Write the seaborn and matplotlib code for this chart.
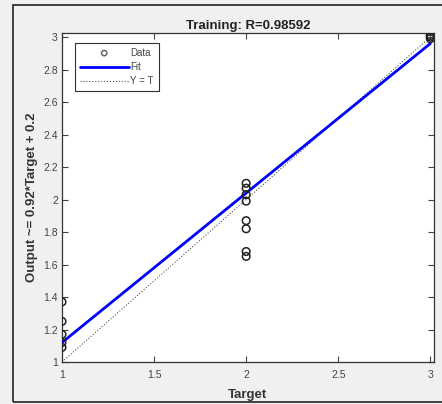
import matplotlib
matplotlib.use("Agg")
import matplotlib.pyplot as plt
import seaborn as sns
import numpy as np
import pandas as pd
from matplotlib.patches import Rectangle

# data
target = [1, 1, 1, 1, 1,
          2, 2, 2, 2, 2, 2, 2, 2,
          3, 3, 3]
output = [1.37, 1.25, 1.17, 1.12, 1.09,
          2.10, 2.07, 2.03, 1.99, 1.87, 1.82, 1.68, 1.65,
          3.00, 3.01, 2.99]
fit_slope = 0.92
fit_intercept = 0.2
title = "Training: R=0.98592"
xticks = [1, 1.5, 2, 2.5, 3]
yticks = [1, 1.2, 1.4, 1.6, 1.8, 2, 2.2, 2.4, 2.6, 2.8, 3]

sns.set_style("white")
plt.rcParams['font.family'] = ['Liberation Sans', 'DejaVu Sans']

fig = plt.figure(figsize=(4.42, 4.04), dpi=100)
fig.patch.set_facecolor('#f0f0f0')
fig.patches.append(Rectangle((13/442, 2/404), 1.2, 397/404, transform=fig.transFigure,
                             fill=False, edgecolor='#333333', linewidth=1.3))
ax = fig.add_axes([62/442, 42/404, 372/442, 329/404])

df = pd.DataFrame({"Target": target, "Output": output})
line_x = np.array([1.0, 3.0])
fit_df = pd.DataFrame({"x": line_x, "y": fit_slope * line_x + fit_intercept})
id_df = pd.DataFrame({"x": line_x, "y": line_x})

sns.lineplot(data=fit_df, x="x", y="y", ax=ax, color='#0000ff', linewidth=2, label="Fit", zorder=3)
sns.lineplot(data=id_df, x="x", y="y", ax=ax, color='#555555', linewidth=0.8, linestyle=':', label="Y = T", zorder=2)
sns.scatterplot(data=df, x="Target", y="Output", ax=ax, marker='o', s=30,
                facecolors='none', edgecolor='#222222', linewidth=1.1, label="Data", zorder=4)

ax.set_xlim(1, 3.02)
ax.set_ylim(1, 3.025)
ax.set_xticks(xticks)
ax.set_xticklabels(["1", "1.5", "2", "2.5", "3"])
ax.set_yticks(yticks)
ax.set_yticklabels(["1", "1.2", "1.4", "1.6", "1.8", "2", "2.2", "2.4", "2.6", "2.8", "3"])
ax.tick_params(direction='in', length=4, width=0.8, labelsize=7.5, labelcolor='#444444',
               top=True, right=True, bottom=True, left=True, color='#444444')
ax.tick_params(axis='x', pad=6)
ax.tick_params(axis='y', pad=3)
for s in ax.spines.values():
    s.set_color('#333333')
    s.set_linewidth(0.9)

ax.set_title(title, fontsize=9.5, fontweight='bold', color='#222222', pad=3)
ax.set_xlabel("Target", fontsize=9.5, fontweight='bold', color='#333333', labelpad=6)
ax.set_ylabel("Output ~= 0.92*Target + 0.2", fontsize=9.5, fontweight='bold', color='#333333', labelpad=4)

h, l = ax.get_legend_handles_labels()
order = [l.index("Data"), l.index("Fit"), l.index("Y = T")]
leg = ax.legend([h[i] for i in order], [l[i] for i in order], loc='upper left',
                bbox_to_anchor=(0.022, 0.985), fontsize=7, frameon=True, fancybox=False,
                edgecolor='#333333', framealpha=1, handlelength=5, borderpad=0.5,
                labelspacing=0.45, handletextpad=0.2, markerscale=0.7)
leg.get_frame().set_linewidth(0.8)
leg.legend_handles[0].set_edgecolor('#666666')
for t in leg.get_texts():
    t.set_color('#444444')

fig.savefig("out.png", dpi=100, facecolor=fig.get_facecolor())
